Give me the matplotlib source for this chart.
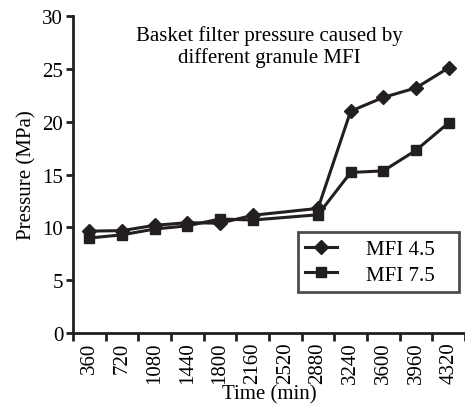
import numpy as np
import matplotlib.pyplot as plt

times = ["360", "720", "1080", "1440", "1800", "2160", "2520",
         "2880", "3240", "3600", "3960", "4320"]
# no measurement at 2520 min
mfi45 = [9.65, 9.7, 10.2, 10.45, 10.4, 11.15, np.nan,
         11.8, 21.0, 22.3, 23.2, 25.1]
mfi75 = [9.0, 9.3, 9.85, 10.15, 10.8, 10.7, np.nan,
         11.2, 15.2, 15.35, 17.3, 19.9]

plt.rcParams["font.family"] = ["Liberation Serif", "DejaVu Serif"]
plt.rcParams["font.size"] = 15
col = "#231f20"

fig = plt.figure(figsize=(4.65, 4.10), dpi=100)
ax = fig.add_axes([0.157, 0.185, 0.843, 0.7735])

pos = np.arange(len(times)) + 0.5
for vals, mk, ms, lab in [(mfi45, "D", 7, "MFI 4.5"), (mfi75, "s", 7.5, "MFI 7.5")]:
    v = np.array(vals)
    good = ~np.isnan(v)
    ax.plot(pos[good], v[good], color=col, marker=mk, markersize=ms,
            linewidth=2.2, label=lab)

ax.set_xlim(0, len(times))
ax.set_ylim(0, 30)
ax.set_yticks(np.arange(0, 31, 5))
ax.set_xticks(pos)
ax.set_xticklabels(times, rotation=90)
ax.set_xticks(np.arange(0, len(times) + 1), minor=True)
ax.tick_params(axis="x", which="major", length=0, pad=6)
ax.tick_params(axis="x", which="minor", length=6, width=2, color=col)
ax.tick_params(axis="y", length=5, width=2, color=col, pad=2)

for s in ["top", "right"]:
    ax.spines[s].set_visible(False)
for s in ["left", "bottom"]:
    ax.spines[s].set_linewidth(2)
    ax.spines[s].set_color(col)

ax.set_xlabel("Time (min)", labelpad=1)
ax.set_ylabel("Pressure (MPa)", labelpad=4)
ax.text(0.5, 0.97, "Basket filter pressure caused by\ndifferent granule MFI",
        transform=ax.transAxes, ha="center", va="top", linespacing=1.1)

leg = ax.legend(loc="upper left", bbox_to_anchor=(0.574, 0.319, 0.41, 0.0),
                mode="expand", fancybox=False, handlelength=1.5,
                handletextpad=1.4, borderpad=0.35, labelspacing=0.3,
                borderaxespad=0)
leg.get_frame().set_edgecolor(col)
leg.get_frame().set_linewidth(2)

fig.savefig("out.png", dpi=100)
